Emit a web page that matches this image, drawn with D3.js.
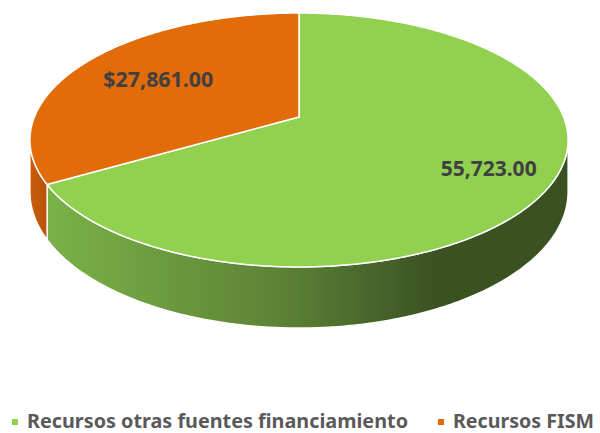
<!DOCTYPE html>
<html>
<head>
<meta charset="utf-8">
<script src="https://cdn.jsdelivr.net/npm/d3@7"></script>
<style>
  html, body { margin: 0; padding: 0; background: #fff; }
  svg { display: block; }
</style>
</head>
<body>
<div id="chart"></div>
<script>
// chart data
const categories = ["Recursos otras fuentes financiamiento", "Recursos FISM"];
const values = [55723, 27861];
const valueLabels = ["55,723.00", "$27,861.00"];

const topColors = ["#92D050", "#E26B0A"];
const wallColors = [["#7BB247", "#5C8236", "#3A5122"], ["#C85D0C", "#C25809", "#BC5508"]];

const width = 600, height = 433;

const svg = d3.select("#chart")
  .append("svg")
  .attr("width", width)
  .attr("height", height);

// perspective model of the tilted disc
const cx = 299, cy = 117;
const A = 264.6, B = 122.8, e = 0.181, depth = 50;

function project(angle, r, drop) {
  const u = r * Math.sin(angle), v = r * Math.cos(angle);
  const w = 1 + e * v;
  return [cx + A * u / w, cy - B * v / w + (drop ? depth / w : 0)];
}

const pie = d3.pie().sort(null).value(d => d)
  .startAngle(0).endAngle(2 * Math.PI);
const arcs = pie(values);

function arcPoints(a0, a1, drop) {
  const n = Math.max(2, Math.ceil((a1 - a0) / 0.01));
  return d3.range(n + 1).map(i => project(a0 + (a1 - a0) * i / n, 1, drop));
}

const line = d3.line();

// gradients for side walls
const defs = svg.append("defs");
wallColors.forEach((cols, i) => {
  const g = defs.append("linearGradient")
    .attr("id", "wall" + i)
    .attr("x1", "0").attr("x2", "1").attr("y1", "0").attr("y2", "0");
  g.append("stop").attr("offset", "0").attr("stop-color", cols[0]);
  g.append("stop").attr("offset", "0.45").attr("stop-color", cols[1]);
  g.append("stop").attr("offset", "0.75").attr("stop-color", cols[2]);
  g.append("stop").attr("offset", "1").attr("stop-color", cols[2]);
});

// visible part of the outer wall (front side of the silhouette)
const visL = Math.acos(-e), visR = 2 * Math.PI - visL;

const walls = svg.append("g");
arcs.forEach((d, i) => {
  const a0 = Math.max(d.startAngle, visL), a1 = Math.min(d.endAngle, visR);
  if (a1 <= a0) return;
  const pts = arcPoints(a0, a1, false).concat(arcPoints(a0, a1, true).reverse());
  walls.append("path")
    .attr("d", line(pts) + "Z")
    .attr("fill", `url(#wall${i})`)
    .attr("stroke", "#fff")
    .attr("stroke-width", 1.3)
    .attr("stroke-linejoin", "round");
});

// top faces
const tops = svg.append("g");
arcs.forEach((d, i) => {
  const pts = [project(0, 0, false)].concat(arcPoints(d.startAngle, d.endAngle, false));
  tops.append("path")
    .attr("d", line(pts) + "Z")
    .attr("fill", topColors[i])
    .attr("stroke", "#fff")
    .attr("stroke-width", 1.5)
    .attr("stroke-linejoin", "round");
});

// data labels
const labelRadius = [0.77, 0.65];
svg.append("g")
  .selectAll("text")
  .data(arcs)
  .join("text")
    .attr("x", (d, i) => project((d.startAngle + d.endAngle) / 2, labelRadius[i], false)[0])
    .attr("y", (d, i) => project((d.startAngle + d.endAngle) / 2, labelRadius[i], false)[1])
    .attr("dy", "0.38em")
    .attr("text-anchor", "middle")
    .attr("font-family", "'Noto Sans', 'Open Sans', sans-serif")
    .attr("font-weight", "bold")
    .attr("font-size", 21)
    .attr("fill", "#404040")
    .attr("textLength", (d, i) => i === 0 ? 96 : 110)
    .attr("lengthAdjust", "spacingAndGlyphs")
    .text((d, i) => valueLabels[i]);

// legend
const legendX = [12, 438];
const legendW = [381, 141];
const legend = svg.append("g")
  .selectAll("g")
  .data(categories)
  .join("g")
    .attr("transform", (d, i) => `translate(${legendX[i]},419)`);

legend.append("rect")
  .attr("width", 6).attr("height", 6)
  .attr("fill", (d, i) => topColors[i]);

legend.append("text")
  .attr("x", 15)
  .attr("y", 9)
  .attr("font-family", "'Noto Sans', 'Open Sans', sans-serif")
  .attr("font-weight", "bold")
  .attr("font-size", 19)
  .attr("fill", "#595959")
  .attr("textLength", (d, i) => legendW[i])
  .attr("lengthAdjust", "spacingAndGlyphs")
  .text(d => d);
</script>
</body>
</html>
